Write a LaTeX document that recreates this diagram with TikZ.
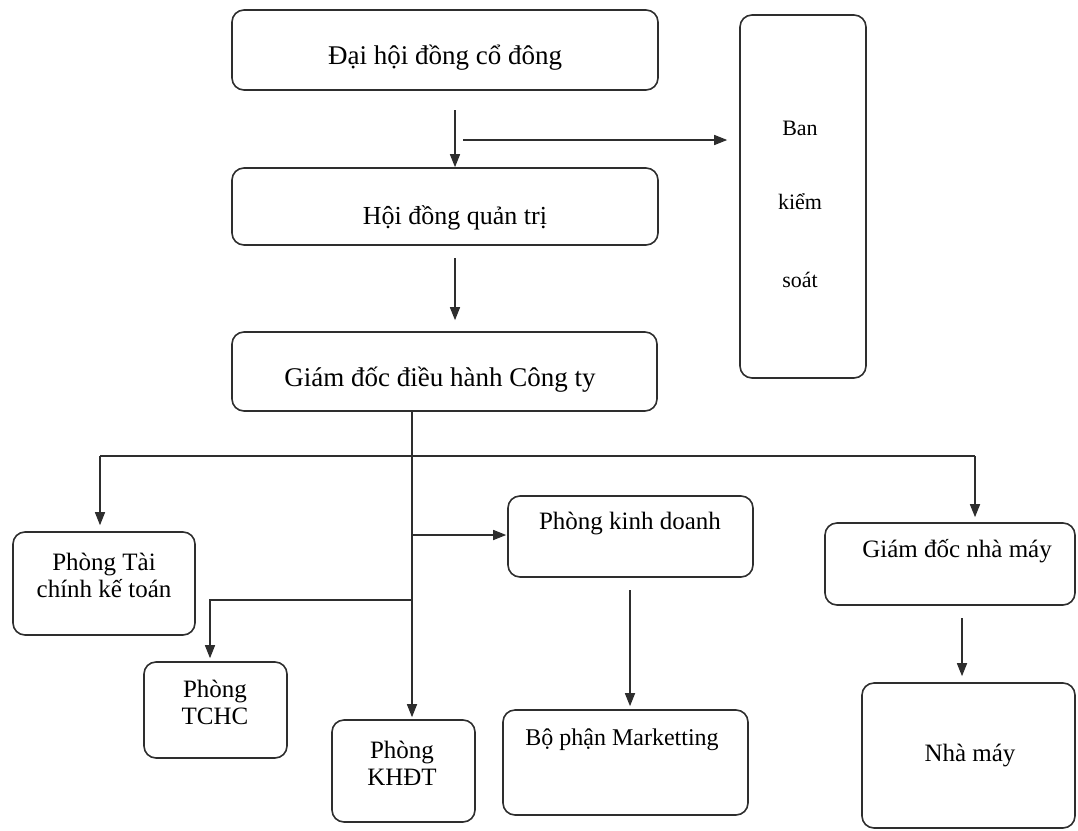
\documentclass[tikz,border=0pt]{standalone}
\usepackage{fontspec}
\setmainfont{Liberation Serif}
\usetikzlibrary{arrows.meta}
\definecolor{ink}{HTML}{2E2E2E}
\tikzset{
  box/.style={draw=ink, line width=1.6pt, rounded corners=12pt, inner sep=0pt},
  lbl/.style={font=\fontsize{25}{27}\selectfont, text=black, inner sep=0pt, align=center},
  big/.style={lbl, font=\fontsize{27}{30}\selectfont},
  small/.style={lbl, font=\fontsize{22}{26}\selectfont},
  conn/.style={draw=ink, line width=1.5pt},
  arr/.style={conn, -{Triangle[length=13pt,width=10pt]}},
}
\begin{document}
\begin{tikzpicture}[x=1pt,y=-1pt]
\useasboundingbox (0,0) rectangle (1078,830);
% boxes
\node[box, minimum width=426pt, minimum height=80pt] (dh) at (445,50) {};
\node[box, minimum width=426pt, minimum height=77pt] (hd) at (445,206.5) {};
\node[box, minimum width=425pt, minimum height=79pt] (gd) at (444.5,371.5) {};
\node[box, minimum width=126pt, minimum height=363pt] (bks) at (803,196.5) {};
\node[box, minimum width=182pt, minimum height=103pt] (tc) at (104,583.5) {};
\node[box, minimum width=245pt, minimum height=81pt] (kd) at (630.5,536.5) {};
\node[box, minimum width=250pt, minimum height=82pt] (nm) at (950,564) {};
\node[box, minimum width=143pt, minimum height=96pt] (tchc) at (215.5,710) {};
\node[box, minimum width=143pt, minimum height=102pt] (khdt) at (403.5,771) {};
\node[box, minimum width=245pt, minimum height=105pt] (mk) at (625.5,762.5) {};
\node[box, minimum width=213pt, minimum height=145pt] (nmay) at (968.5,755.5) {};
% labels
\node[big] (tdh) at (445,58) {Đại hội đồng cổ đông};
\node[lbl, font=\fontsize{26}{29}\selectfont] (thd) at (455,218) {Hội đồng quản trị};
\node[big] (tgd) at (440,380) {Giám đốc điều hành Công ty};
\node[small] (tb1) at (800,128) {Ban};
\node[small] (tb2) at (800,202) {kiểm};
\node[small] (tb3) at (800,280) {soát};
\node[lbl] (ttc) at (104,575) {Phòng Tài\\chính kế toán};
\node[lbl] (tkd) at (630,523) {Phòng kinh doanh};
\node[lbl] (tnm) at (957,551) {Giám đốc nhà máy};
\node[lbl] (ttchc) at (215,702) {Phòng\\TCHC};
\node[lbl] (tkh) at (402,763) {Phòng\\KHĐT};
\node[lbl, font=\fontsize{24}{27}\selectfont] (tmk) at (622,740) {Bộ phận Marketting};
\node[lbl] (tnmay) at (970,755) {Nhà máy};
% connector points
\coordinate (a1) at (455,110);
\coordinate (a2) at (463,140);
\coordinate (a3) at (455,258);
\coordinate (tr) at (412,411);
\coordinate (barL) at (100,456);
\coordinate (barR) at (975,456);
\coordinate (bkd) at (412,535);
\coordinate (btc) at (412,600);
\coordinate (btc2) at (210,600);
\coordinate (kdm) at (630,590);
\coordinate (nmm) at (962,618);
% connectors
\draw[arr] (a1) -- (a1 |- hd.north);
\draw[arr, shorten >=12pt] (a2) -- (a2 -| bks.west);
\draw[arr, shorten >=11pt] (a3) -- (a3 |- gd.north);
\draw[arr, shorten >=2pt] (tr) -- (tr |- khdt.north);
\draw[conn] (barL) -- (barR);
\draw[arr, shorten >=6pt] (barL) -- (barL |- tc.north);
\draw[arr, shorten >=5pt] (barR) -- (barR |- nm.north);
\draw[arr, shorten >=1pt] (bkd) -- (bkd -| kd.west);
\draw[arr, shorten >=3pt] (btc) -- (btc2) -- (btc2 |- tchc.north);
\draw[arr, shorten >=3pt] (kdm) -- (kdm |- mk.north);
\draw[arr, shorten >=6pt] (nmm) -- (nmm |- nmay.north);
\end{tikzpicture}
\end{document}
